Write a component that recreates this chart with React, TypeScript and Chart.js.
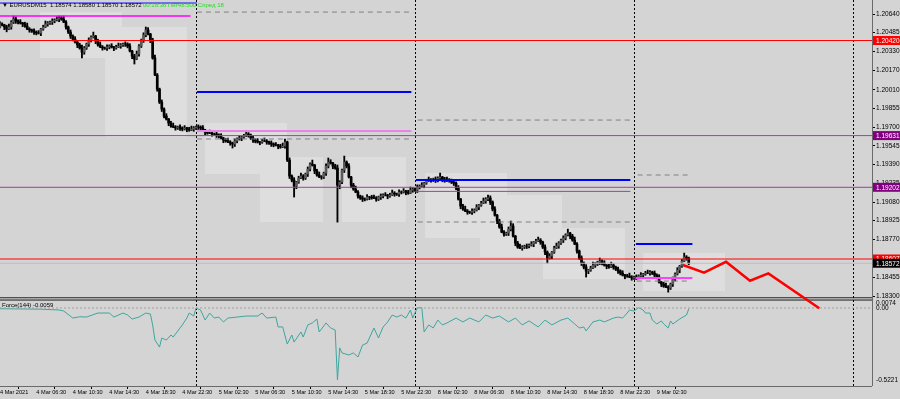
import React, { useEffect, useRef } from 'react';
import { Chart, registerables } from 'chart.js';
Chart.register(...registerables);

// ---- axis ranges (time = trading hours since 4 Mar 2021 00:00, weekend removed) ----
const X_MIN = 2.52;
const X_MAX = 98.08;
const PRICE_MAX = 1.207562;
const PRICE_MIN = 1.175532;
const FORCE_MAX = 2.1441;
const FORCE_MIN = -0.543;

// ---- candles (M15), prices in points (1e-5) above 1.18000 ----
const BASE_PRICE = 1.18;
const FIRST_BAR_HOUR = 2.5;
const BAR_HOURS = 0.25;
const FIRST_OPEN_PTS = 2540;

const closePts = [
  2557, 2549, 2532, 2515, 2532, 2573, 2598, 2582, 2573, 2565,
  2557, 2540, 2515, 2507, 2499, 2490, 2482, 2482, 2515, 2532,
  2557, 2565, 2573, 2582, 2590, 2598, 2607, 2598, 2573, 2532,
  2490, 2457, 2432, 2407, 2383, 2358, 2324, 2358, 2391, 2424,
  2449, 2457, 2416, 2383, 2366, 2358, 2358, 2366, 2374, 2366,
  2358, 2366, 2374, 2383, 2391, 2391, 2374, 2333, 2291, 2266,
  2308, 2374, 2424, 2466, 2507, 2474, 2424, 2275, 2134, 2017,
  1909, 1851, 1793, 1768, 1735, 1710, 1702, 1694, 1702, 1694,
  1685, 1694, 1685, 1677, 1685, 1694, 1702, 1702, 1694, 1677,
  1660, 1652, 1652, 1644, 1644, 1636, 1627, 1611, 1594, 1586,
  1577, 1569, 1561, 1586, 1602, 1611, 1619, 1627, 1644, 1636,
  1611, 1594, 1586, 1577, 1577, 1586, 1586, 1577, 1569, 1561,
  1553, 1553, 1544, 1536, 1544, 1577, 1428, 1295, 1262, 1212,
  1245, 1279, 1295, 1279, 1312, 1353, 1395, 1386, 1337, 1304,
  1287, 1287, 1320, 1378, 1411, 1403, 1378, 1362, 1220, 1245,
  1345, 1411, 1378, 1287, 1220, 1187, 1162, 1129, 1113, 1104,
  1104, 1121, 1121, 1113, 1113, 1104, 1121, 1129, 1138, 1138,
  1129, 1138, 1154, 1146, 1146, 1162, 1162, 1171, 1162, 1154,
  1179, 1187, 1179, 1204, 1212, 1220, 1237, 1254, 1262, 1262,
  1270, 1262, 1279, 1287, 1270, 1254, 1262, 1262, 1245, 1237,
  1196, 1104, 1046, 1021, 1005, 996, 996, 1005, 1013, 1038,
  1054, 1071, 1088, 1104, 1113, 1079, 1021, 971, 922, 872,
  830, 814, 822, 855, 880, 797, 739, 706, 698, 706,
  714, 714, 722, 731, 747, 756, 764, 747, 706, 664,
  615, 631, 664, 698, 714, 739, 764, 781, 806, 822,
  797, 764, 731, 673, 615, 573, 540, 507, 515, 532,
  556, 565, 581, 590, 573, 556, 548, 540, 556, 540,
  523, 507, 490, 474, 465, 465, 457, 449, 457, 457,
  465, 474, 482, 490, 490, 498, 490, 474, 457, 415,
  399, 382, 374, 366, 399, 440, 482, 515, 548, 590,
  623, 615, 572,
];

const highPts = [
  2577, 2567, 2555, 2547, 2557, 2585, 2623, 2616, 2592, 2593,
  2571, 2572, 2565, 2527, 2515, 2517, 2500, 2502, 2521, 2547,
  2582, 2577, 2581, 2600, 2600, 2618, 2623, 2622, 2623, 2585,
  2540, 2508, 2467, 2452, 2413, 2398, 2383, 2370, 2399, 2442,
  2459, 2490, 2463, 2431, 2408, 2378, 2366, 2384, 2384, 2394,
  2372, 2381, 2399, 2395, 2399, 2409, 2401, 2394, 2339, 2306,
  2333, 2386, 2432, 2484, 2532, 2527, 2480, 2439, 2300, 2146,
  2025, 1927, 1861, 1813, 1774, 1750, 1735, 1714, 1710, 1720,
  1704, 1714, 1700, 1700, 1710, 1706, 1710, 1720, 1712, 1714,
  1683, 1675, 1677, 1664, 1652, 1662, 1646, 1647, 1617, 1609,
  1611, 1589, 1577, 1604, 1612, 1631, 1625, 1642, 1669, 1656,
  1644, 1629, 1604, 1606, 1583, 1601, 1611, 1598, 1585, 1587,
  1571, 1573, 1559, 1559, 1569, 1602, 1585, 1446, 1305, 1282,
  1251, 1294, 1320, 1307, 1320, 1371, 1405, 1428, 1392, 1352,
  1329, 1299, 1328, 1396, 1445, 1431, 1409, 1393, 1387, 1257,
  1353, 1461, 1421, 1398, 1293, 1235, 1212, 1174, 1137, 1131,
  1114, 1141, 1127, 1136, 1138, 1125, 1129, 1147, 1148, 1158,
  1144, 1153, 1179, 1166, 1154, 1180, 1172, 1191, 1177, 1177,
  1204, 1199, 1195, 1222, 1222, 1240, 1243, 1269, 1287, 1274,
  1278, 1288, 1289, 1320, 1293, 1285, 1287, 1274, 1270, 1263,
  1247, 1216, 1110, 1061, 1046, 1017, 1004, 1023, 1023, 1058,
  1060, 1086, 1113, 1116, 1138, 1131, 1089, 1041, 977, 937,
  897, 842, 830, 873, 922, 900, 803, 754, 731, 718,
  722, 732, 732, 751, 753, 771, 789, 776, 755, 724,
  674, 651, 670, 713, 739, 751, 772, 799, 816, 855,
  828, 812, 789, 743, 681, 633, 583, 560, 521, 547,
  581, 577, 589, 615, 600, 593, 562, 563, 581, 568,
  548, 541, 517, 510, 480, 480, 490, 469, 465, 475,
  475, 494, 488, 505, 515, 510, 506, 508, 484, 477,
  421, 414, 407, 386, 407, 458, 492, 535, 554, 605,
  656, 635, 623,
];

const lowPts = [
  2525, 2541, 2510, 2492, 2510, 2514, 2561, 2562, 2558, 2557,
  2535, 2530, 2510, 2489, 2487, 2470, 2467, 2474, 2460, 2505,
  2527, 2539, 2553, 2553, 2567, 2582, 2576, 2588, 2568, 2514,
  2478, 2437, 2417, 2399, 2361, 2348, 2275, 2306, 2346, 2371,
  2409, 2441, 2394, 2373, 2361, 2340, 2346, 2338, 2351, 2358,
  2336, 2348, 2361, 2356, 2371, 2371, 2359, 2325, 2269, 2225,
  2261, 2290, 2362, 2404, 2451, 2466, 2402, 2265, 2129, 1999,
  1897, 1831, 1778, 1760, 1713, 1700, 1697, 1676, 1682, 1674,
  1670, 1677, 1663, 1667, 1672, 1667, 1682, 1682, 1679, 1669,
  1638, 1642, 1647, 1626, 1632, 1616, 1612, 1603, 1572, 1576,
  1572, 1551, 1528, 1541, 1571, 1594, 1589, 1609, 1622, 1618,
  1599, 1574, 1571, 1569, 1555, 1567, 1581, 1559, 1557, 1541,
  1538, 1545, 1522, 1526, 1531, 1526, 1416, 1275, 1247, 1121,
  1190, 1235, 1274, 1261, 1267, 1292, 1338, 1378, 1315, 1294,
  1282, 1269, 1275, 1300, 1363, 1395, 1356, 1352, 913, 1190,
  1233, 1325, 1363, 1279, 1198, 1177, 1157, 1111, 1101, 1084,
  1089, 1096, 1099, 1103, 1108, 1086, 1092, 1101, 1114, 1130,
  1107, 1119, 1133, 1128, 1134, 1126, 1147, 1154, 1140, 1144,
  1149, 1161, 1167, 1159, 1189, 1204, 1198, 1227, 1249, 1244,
  1250, 1242, 1247, 1271, 1248, 1244, 1249, 1244, 1233, 1217,
  1181, 1096, 1024, 1011, 1000, 978, 984, 976, 990, 1005,
  1016, 1044, 1066, 1070, 1092, 1059, 1006, 963, 900, 862,
  825, 796, 802, 802, 840, 789, 717, 696, 693, 680,
  694, 694, 699, 714, 709, 737, 751, 729, 694, 644,
  573, 607, 609, 654, 693, 696, 727, 744, 766, 798,
  775, 754, 726, 655, 603, 553, 525, 457, 485, 505,
  527, 538, 553, 561, 558, 548, 526, 530, 535, 522,
  511, 487, 475, 466, 443, 455, 452, 431, 437, 437,
  442, 457, 452, 472, 485, 472, 478, 454, 442, 407,
  377, 372, 369, 332, 354, 379, 425, 474, 493, 538,
  585, 597, 560,
];

// ---- Force(144) indicator: bar index and value ----
const forceBars = [
  0, 12, 18, 26, 28, 32, 35, 38, 43, 48, 50, 54, 56, 58, 61, 64, 66, 67, 68, 70,
  71, 73, 75, 76, 79, 80, 82, 83, 85, 86, 88, 90, 92, 94, 96, 98, 100, 104, 108, 113,
  115, 117, 121, 122, 124, 126, 128, 129, 132, 133, 135, 137, 139, 140, 143, 145, 147, 148, 149, 150,
  153, 155, 157, 159, 161, 162, 164, 166, 168, 170, 172, 174, 176, 178, 180, 181, 183, 185, 186, 188,
  190, 192, 194, 196, 200, 203, 206, 210, 213, 216, 219, 223, 226, 229, 232, 236, 239, 242, 246, 249,
  252, 254, 256, 257, 260, 263, 265, 269, 271, 273, 275, 276, 278, 280, 282, 283, 285, 286, 288, 290,
  291, 293, 294, 295, 298, 301, 302,
];
const forceValues = [
  -0.005, -0.007, -0.008, -0.014, -0.021, -0.070, -0.061, -0.063, -0.035, -0.035, -0.063, -0.035, -0.049, -0.077, -0.063, -0.035, -0.042, -0.118, -0.223, -0.272,
  -0.209, -0.223, -0.188, -0.202, -0.139, -0.118, -0.070, -0.035, -0.056, 0.000, -0.014, -0.084, -0.035, -0.070, -0.063, -0.097, -0.070, -0.063, -0.056, -0.056,
  -0.035, -0.070, -0.063, -0.132, -0.132, -0.251, -0.188, -0.237, -0.167, -0.202, -0.118, -0.104, -0.077, -0.167, -0.104, -0.139, -0.153, -0.501, -0.278, -0.313,
  -0.327, -0.313, -0.341, -0.258, -0.244, -0.209, -0.139, -0.209, -0.132, -0.097, -0.049, -0.063, -0.049, -0.070, -0.014, -0.070, 0.000, 0.002, -0.167, -0.118,
  -0.139, -0.084, -0.118, -0.104, -0.070, -0.097, -0.070, -0.097, -0.049, -0.070, -0.056, -0.097, -0.070, -0.118, -0.090, -0.132, -0.084, -0.118, -0.084, -0.070,
  -0.111, -0.139, -0.132, -0.160, -0.097, -0.084, -0.097, -0.070, -0.063, -0.070, -0.035, -0.014, -0.021, 0.002, -0.014, -0.035, -0.035, -0.084, -0.111, -0.090,
  -0.111, -0.139, -0.090, -0.111, -0.077, -0.049, -0.0059,
];

// ---- full-width price levels ----
const levelPrices = [1.2042, 1.19631, 1.19202, 1.18607, 1.18572];
const levelLabels = ['1.20420', '1.19631', '1.19202', '1.18607', '1.18572'];

// ---- day-bounded segments (price, start hour, end hour) ----
const segPrices = [1.20731, 1.20623, 1.20656, 1.19993, 1.19669, 1.19603, 1.1976, 1.19262, 1.19168, 1.18914, 1.19304, 1.18731, 1.18449, 1.18424];
const segStart = [2.5, 2.5, 24.1, 24.1, 24.1, 24.1, 48.3, 48.1, 48.1, 48.3, 72.4, 72.2, 72.2, 72.3];
const segEnd = [24.1, 23.4, 47.8, 47.6, 47.6, 47.8, 71.8, 71.6, 71.6, 71.8, 78.1, 78.4, 78.4, 78.1];

// ---- forecast path ----
const forecastHours = [77.37, 79.67, 82.08, 84.71, 86.72, 92.3];
const forecastPrices = [1.18557, 1.18493, 1.18584, 1.18427, 1.18488, 1.18198];

// ---- session boxes (hour range, price range) ----
const boxStart = [6.9, 14.03, 24.99, 31.01, 40.0, 49.1, 55.12, 62.03, 72.99];
const boxEnd = [15.89, 23.01, 33.97, 37.92, 47.01, 58.08, 64.11, 71.01, 81.97];
const boxHigh = [1.20656, 1.20532, 1.19735, 1.19453, 1.19453, 1.1932, 1.19138, 1.18864, 1.18657];
const boxLow = [1.20275, 1.19619, 1.19312, 1.18914, 1.18914, 1.18781, 1.18623, 1.18441, 1.18341];

// ---- axis ticks ----
const priceTicks = [1.2064, 1.20485, 1.2033, 1.2017, 1.2001, 1.19855, 1.197, 1.19545, 1.1939, 1.19235, 1.1908, 1.18925, 1.1877, 1.18615, 1.18455, 1.183];
const xTickHours = [2.52, 6.5, 10.5, 14.5, 18.5, 22.5, 26.5, 30.5, 34.5, 38.5, 42.5, 46.5, 50.5, 54.5, 58.5, 62.5, 66.5, 70.5, 74.5];
const xTickLabels = ['4 Mar 2021', '4 Mar 06:30', '4 Mar 10:30', '4 Mar 14:30', '4 Mar 18:30', '4 Mar 22:30', '5 Mar 02:30', '5 Mar 06:30', '5 Mar 10:30', '5 Mar 14:30', '5 Mar 18:30', '5 Mar 22:30', '8 Mar 02:30', '8 Mar 06:30', '8 Mar 10:30', '8 Mar 14:30', '8 Mar 18:30', '8 Mar 22:30', '9 Mar 02:30'];
const daySeparators = [24, 48, 72, 96];

const headerText = '\u25BC EURUSDM15  1.18574 1.18580 1.18570 1.18572';
const infoText = '00:18:36 \u041F\u043D\u043348.500 \u0421\u043F\u0440\u0435\u0434 18';
const forceLabel = 'Force(144) -0.0059';
const forceAxisLabels = ['0.0074', '0.00', '-0.5221'];
const forceAxisValues = [0.0074, 0.0, -0.5221];

// ---- styles ----
const BG = '#d4d4d4';
const BOX = '#dedede';
const FONT = '"Liberation Sans", Arial, sans-serif';
const levelColors = ['#ff0000', '#a040a0', '#a040a0', '#ff0000', '#bdbdbd'];
const levelLabelBg = ['#ff0000', '#800080', '#800080', '#ff0000', '#000000'];
const segColors = ['#0000ff', '#ff00ff', '#808080', '#0000ff', '#e884e8', '#808080', '#808080', '#0000ff', '#a040a0', '#808080', '#808080', '#0000ff', '#ff40ff', '#808080'];
const segWidths = [1, 1.5, 1, 2, 2, 1, 1, 2, 1, 1, 1, 2, 2, 1];
const segDashed = [false, false, true, false, false, true, true, false, false, true, true, false, false, true];

const barTime = (i: number) => FIRST_BAR_HOUR + i * BAR_HOURS;
const toPrice = (p: number) => BASE_PRICE + p / 100000;

function buildDatasets(): any[] {
  const n = Math.min(closePts.length, highPts.length, lowPts.length);
  const wicks: any[] = [];
  const bodies: any[] = [];
  const bodyColors: string[] = [];
  for (let i = 0; i < n; i++) {
    const o = i === 0 ? FIRST_OPEN_PTS : closePts[i - 1];
    const c = closePts[i];
    const t = barTime(i);
    wicks.push({ x: t, y: [toPrice(lowPts[i]), toPrice(highPts[i])] });
    bodies.push({ x: t, y: [toPrice(Math.min(o, c)), toPrice(Math.max(o, c))] });
    bodyColors.push(c > o ? '#5a5a5a' : '#000000');
  }
  const ds: any[] = [];
  ds.push({
    type: 'line', order: 0, yAxisID: 'y',
    data: forecastHours.map((h, i) => ({ x: h, y: forecastPrices[i] })),
    borderColor: '#ff0000', borderWidth: 2.5, pointRadius: 0, tension: 0,
  });
  levelPrices.forEach((p, i) => {
    ds.push({
      type: 'line', order: 1, yAxisID: 'y',
      data: [{ x: X_MIN, y: p }, { x: X_MAX, y: p }],
      borderColor: levelColors[i], borderWidth: 1, pointRadius: 0,
    });
  });
  segPrices.forEach((p, i) => {
    ds.push({
      type: 'line', order: 2, yAxisID: 'y',
      data: [{ x: segStart[i], y: p }, { x: segEnd[i], y: p }],
      borderColor: segColors[i], borderWidth: segWidths[i], pointRadius: 0,
      borderDash: segDashed[i] ? [5, 4] : [],
    });
  });
  ds.push({
    type: 'line', order: 3, yAxisID: 'y2',
    data: [{ x: X_MIN, y: 0 }, { x: X_MAX, y: 0 }],
    borderColor: '#a0a0a0', borderWidth: 1, borderDash: [2, 2], pointRadius: 0,
  });
  ds.push({
    type: 'line', order: 3, yAxisID: 'y2',
    data: forceBars.map((b, i) => ({ x: barTime(b), y: forceValues[i] })),
    borderColor: '#3ea69e', borderWidth: 1, pointRadius: 0, tension: 0,
  });
  ds.push({
    type: 'bar', order: 4, yAxisID: 'y', data: bodies,
    backgroundColor: bodyColors, barThickness: 2, grouped: false,
  });
  ds.push({
    type: 'bar', order: 5, yAxisID: 'y', data: wicks,
    backgroundColor: '#000000', barThickness: 1.2, grouped: false,
  });
  return ds;
}

const mt4Plugin = {
  id: 'mt4look',
  beforeDraw(chart: any) {
    const { ctx, width, height } = chart;
    ctx.save();
    ctx.fillStyle = BG;
    ctx.fillRect(0, 0, width, height);
    ctx.restore();
  },
  beforeDatasetsDraw(chart: any) {
    const { ctx, chartArea } = chart;
    const x = chart.scales.x;
    const y = chart.scales.y;
    ctx.save();
    ctx.fillStyle = BOX;
    boxStart.forEach((s, i) => {
      const x0 = x.getPixelForValue(s);
      const x1 = x.getPixelForValue(boxEnd[i]);
      const y0 = y.getPixelForValue(boxHigh[i]);
      const y1 = y.getPixelForValue(boxLow[i]);
      ctx.fillRect(x0, y0, x1 - x0, y1 - y0);
    });
    // panel separator
    ctx.fillStyle = '#a8a8a8';
    ctx.fillRect(chartArea.left, 297, chartArea.right - chartArea.left, 3.5);
    ctx.fillStyle = '#505050';
    ctx.fillRect(chartArea.left, 297, chartArea.right - chartArea.left, 1);
    ctx.fillRect(chartArea.left, 299.5, chartArea.right - chartArea.left, 1.2);
    // day separators
    ctx.strokeStyle = '#000000';
    ctx.lineWidth = 1;
    ctx.setLineDash([2, 2]);
    daySeparators.forEach((d) => {
      const px = Math.round(x.getPixelForValue(d)) + 0.5;
      ctx.beginPath();
      ctx.moveTo(px, chartArea.top);
      ctx.lineTo(px, chartArea.bottom);
      ctx.stroke();
    });
    ctx.setLineDash([]);
    ctx.restore();
  },
  afterDraw(chart: any) {
    const { ctx, chartArea } = chart;
    const y = chart.scales.y;
    const y2 = chart.scales.y2;
    ctx.save();
    ctx.font = '6.5px ' + FONT;
    ctx.textBaseline = 'middle';
    ctx.textAlign = 'left';
    // price labels on axis
    levelPrices.forEach((p, i) => {
      const py = y.getPixelForValue(p);
      ctx.fillStyle = levelLabelBg[i];
      ctx.fillRect(chartArea.right + 1, py - 4.5, 27, 9);
      ctx.fillStyle = '#ffffff';
      ctx.fillText(levelLabels[i], chartArea.right + 4, py + 0.5);
    });
    // indicator axis labels
    ctx.fillStyle = '#000000';
    forceAxisValues.forEach((v, i) => {
      const py = y2.getPixelForValue(v);
      const dy = i === 0 ? -4 : i === 2 ? -3 : 0;
      ctx.fillText(forceAxisLabels[i], chartArea.right + 4, py + dy);
    });
    // indicator label
    ctx.font = '6px ' + FONT;
    ctx.fillText(forceLabel, chartArea.left + 2, 305);
    // header
    ctx.fillText(headerText, chartArea.left + 2, 5);
    ctx.fillStyle = '#22dd22';
    ctx.fillText(infoText, chartArea.left + 143, 5);
    // right border
    ctx.strokeStyle = '#6a6a6a';
    ctx.lineWidth = 1;
    ctx.beginPath();
    ctx.moveTo(chartArea.right + 0.5, 0);
    ctx.lineTo(chartArea.right + 0.5, chartArea.bottom);
    ctx.moveTo(chartArea.left, chartArea.bottom + 0.5);
    ctx.lineTo(chartArea.right, chartArea.bottom + 0.5);
    ctx.stroke();
    ctx.restore();
  },
};

export default function App() {
  const ref = useRef<HTMLCanvasElement | null>(null);
  useEffect(() => {
    if (!ref.current) return;
    const axisFont = { family: FONT, size: 6.5 };
    const xFont = { family: FONT, size: 5.6 };
    const chart = new Chart(ref.current, {
      type: 'bar',
      data: { datasets: buildDatasets() },
      plugins: [mt4Plugin],
      options: {
        animation: false,
        responsive: false,
        devicePixelRatio: 1,
        events: [],
        layout: { padding: 0, autoPadding: false },
        plugins: { legend: { display: false }, tooltip: { enabled: false } },
        scales: {
          x: {
            type: 'linear', min: X_MIN, max: X_MAX, offset: false,
            afterBuildTicks: (s: any) => { s.ticks = xTickHours.map((v) => ({ value: v })); },
            afterFit: (s: any) => { s.height = 13; s.paddingLeft = 0; s.paddingRight = 0; },
            ticks: {
              callback: (_v: any, i: number) => xTickLabels[i],
              align: 'start', maxRotation: 0, minRotation: 0, autoSkip: false,
              padding: 0, font: xFont, color: '#000000',
            },
            grid: { display: true, drawOnChartArea: false, drawTicks: true, tickLength: 3, color: '#000000' },
            border: { display: false },
          },
          y: {
            type: 'linear', position: 'right', min: PRICE_MIN, max: PRICE_MAX,
            afterBuildTicks: (s: any) => { s.ticks = priceTicks.map((v) => ({ value: v })); },
            afterFit: (s: any) => { s.width = 28; s.paddingTop = 0; s.paddingBottom = 0; },
            ticks: {
              callback: (v: any) => Number(v).toFixed(5),
              autoSkip: false, padding: 1, font: axisFont, color: '#000000',
            },
            grid: { display: true, drawOnChartArea: false, drawTicks: true, tickLength: 3, color: '#000000' },
            border: { display: false },
          },
          y2: {
            type: 'linear', position: 'right', min: FORCE_MIN, max: FORCE_MAX, display: false,
          },
        },
      } as any,
    });
    return () => chart.destroy();
  }, []);
  return (
    <div style={{ position: 'absolute', left: 0, top: 0, width: 900, height: 399 }}>
      <canvas ref={ref} width={900} height={399} style={{ display: 'block', width: 900, height: 399 }} />
    </div>
  );
}
